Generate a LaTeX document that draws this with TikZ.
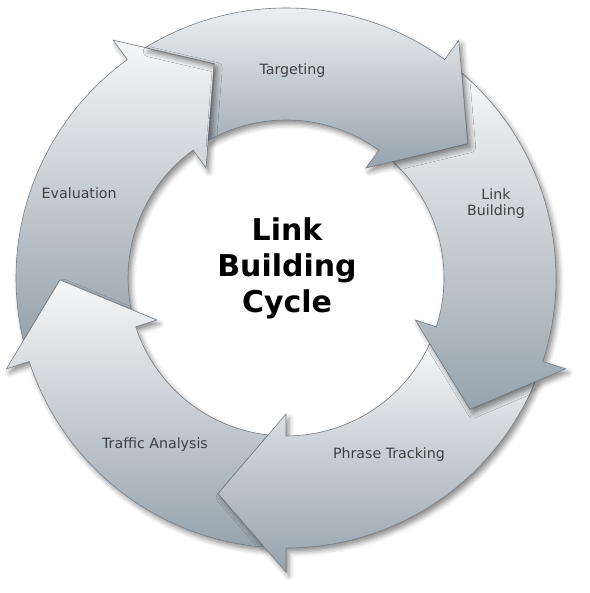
\documentclass[tikz,border=0pt]{standalone}
\usepackage{fontspec}
\setmainfont{DejaVu Sans}
\usetikzlibrary{shadows.blur}

\definecolor{arrowtop}{RGB}{246,247,248}
\definecolor{arrowbottom}{RGB}{150,163,173}
\definecolor{arrowline}{RGB}{120,126,132}
\definecolor{labelgray}{RGB}{64,64,64}

% one ring segment with its head, tail cut to fit the head before it, starting at angle #1
\newcommand{\cyclearrowpath}[1]{({#1-4.57}:270) arc[start angle={#1-4.57}, end angle={#1-72}, radius=270]
    -- ({#1-72}:294) -- ({#1-89.5}:226) -- ({#1-72}:136) -- ({#1-72}:158)
    arc[start angle={#1-72}, end angle={#1-6.52}, radius=158] -- ({#1-17.5}:226) -- cycle}

\tikzset{
    arrowshadow/.style={blur shadow={shadow xshift=3pt, shadow yshift=-4pt, shadow blur radius=5pt, shadow opacity=45}},
    cyclearrow/.style={draw=arrowline, line width=0.6pt, top color=arrowtop, bottom color=arrowbottom, arrowshadow},
    steplabel/.style={text=labelgray, font=\fontsize{14.2}{16}\selectfont, align=center, inner sep=0pt}
}

\begin{document}
\begin{tikzpicture}[x=1pt, y=1pt]
            \useasboundingbox (-286, -315) rectangle (303, 278);
            \draw[cyclearrow] \cyclearrowpath{-162};
            \draw[cyclearrow] \cyclearrowpath{-90};
            \draw[cyclearrow] \cyclearrowpath{-18};
            \draw[cyclearrow] \cyclearrowpath{54};
            \draw[cyclearrow] \cyclearrowpath{126};
            % shadow of the evaluation head falls on the targeting arrow
            \begin{scope}
                \clip \cyclearrowpath{126};
                \path[arrowshadow] \cyclearrowpath{-162};
            \end{scope}
            \node[steplabel, anchor=base] (targeting) at (6.5, 203) {Targeting};
            \node[steplabel] (linkbuilding) at (210, 74.6) {Link\\Building};
            \node[steplabel, anchor=base] (phrasetracking) at (103, -180) {Phrase Tracking};
            \node[steplabel, anchor=base] (trafficanalysis) at (-131, -171) {Traffic Analysis};
            \node[steplabel, anchor=base] (evaluation) at (-206.8, 79) {Evaluation};
            \node[font=\fontsize{30}{36}\selectfont\bfseries, align=center, inner sep=0pt] (cycletitle)
                at (1, 9.6) {Link\\Building\\Cycle};
        \end{tikzpicture}
\end{document}
